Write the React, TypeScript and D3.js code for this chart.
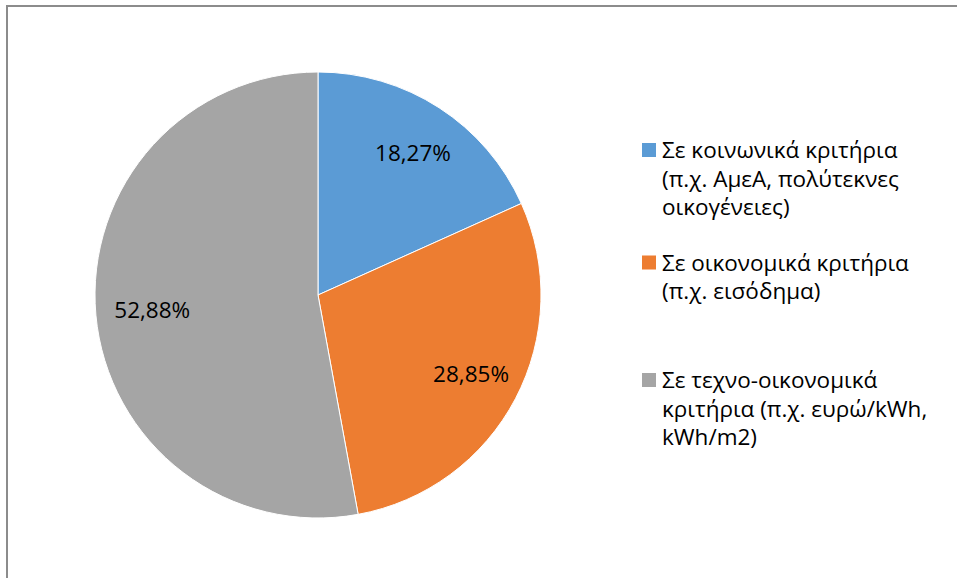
import React from "react";
import * as d3 from "d3";

const categories = ["Σε κοινωνικά κριτήρια (π.χ. ΑμεΑ, πολύτεκνες οικογένειες)", "Σε οικονομικά κριτήρια (π.χ. εισόδημα)", "Σε τεχνο-οικονομικά κριτήρια (π.χ. ευρώ/kWh, kWh/m2)"];
const values = [18.27, 28.85, 52.88];
const valueLabels = ["18,27%", "28,85%", "52,88%"];
const legendLines = [
  ["Σε κοινωνικά κριτήρια", "(π.χ. ΑμεΑ, πολύτεκνες", "οικογένειες)"],
  ["Σε οικονομικά κριτήρια", "(π.χ. εισόδημα)"],
  ["Σε τεχνο-οικονομικά", "κριτήρια (π.χ. ευρώ/kWh,", "kWh/m2)"],
];
const colors = ["#5B9BD5", "#ED7D31", "#A5A5A5"];

export default function App() {
  const W = 957, H = 578;
  const cx = 318, cy = 295, R = 223;
  const pie = d3.pie<number>().sort(null).value((d) => d);
  const arcs = pie(values);
  const arc = d3.arc<d3.PieArcDatum<number>>().innerRadius(0).outerRadius(R);
  const labelArc = d3.arc<d3.PieArcDatum<number>>().innerRadius(R * 0.76).outerRadius(R * 0.76);
  const font = "'Open Sans', 'Noto Sans', sans-serif";
  const legendCenters = [150, 262.5, 380];
  const lineH = 28.7;
  const fs = 22.5;
  return (
    <svg width={W} height={H} style={{ position: "absolute", left: 0, top: 0 }}>
      <rect x={0} y={0} width={W} height={H} fill="#fff" />
      <rect x={7} y={6} width={W} height={H} fill="#fff" stroke="#8c8c8c" strokeWidth={2} />
      <g transform={`translate(${cx},${cy})`}>
        {arcs.map((a, i) => (
          <path key={categories[i]} d={arc(a) || ""} fill={colors[i]} stroke="#fff" strokeWidth={1} />
        ))}
        {arcs.map((a, i) => {
          const [x, y] = labelArc.centroid(a);
          return (
            <text key={i} x={x + 3} y={y + 8} textAnchor="middle" fontFamily={font} fontSize={fs} fill="#000">
              {valueLabels[i]}
            </text>
          );
        })}
      </g>
      {legendLines.map((lines, i) => (
        <g key={i}>
          <rect x={642} y={legendCenters[i] - 7} width={14} height={14} fill={colors[i]} />
          {lines.map((t, j) => (
            <text key={j} x={662} y={legendCenters[i] + 8 + j * lineH} fontFamily={font} fontSize={fs} fill="#000">
              {t}
            </text>
          ))}
        </g>
      ))}
    </svg>
  );
}
